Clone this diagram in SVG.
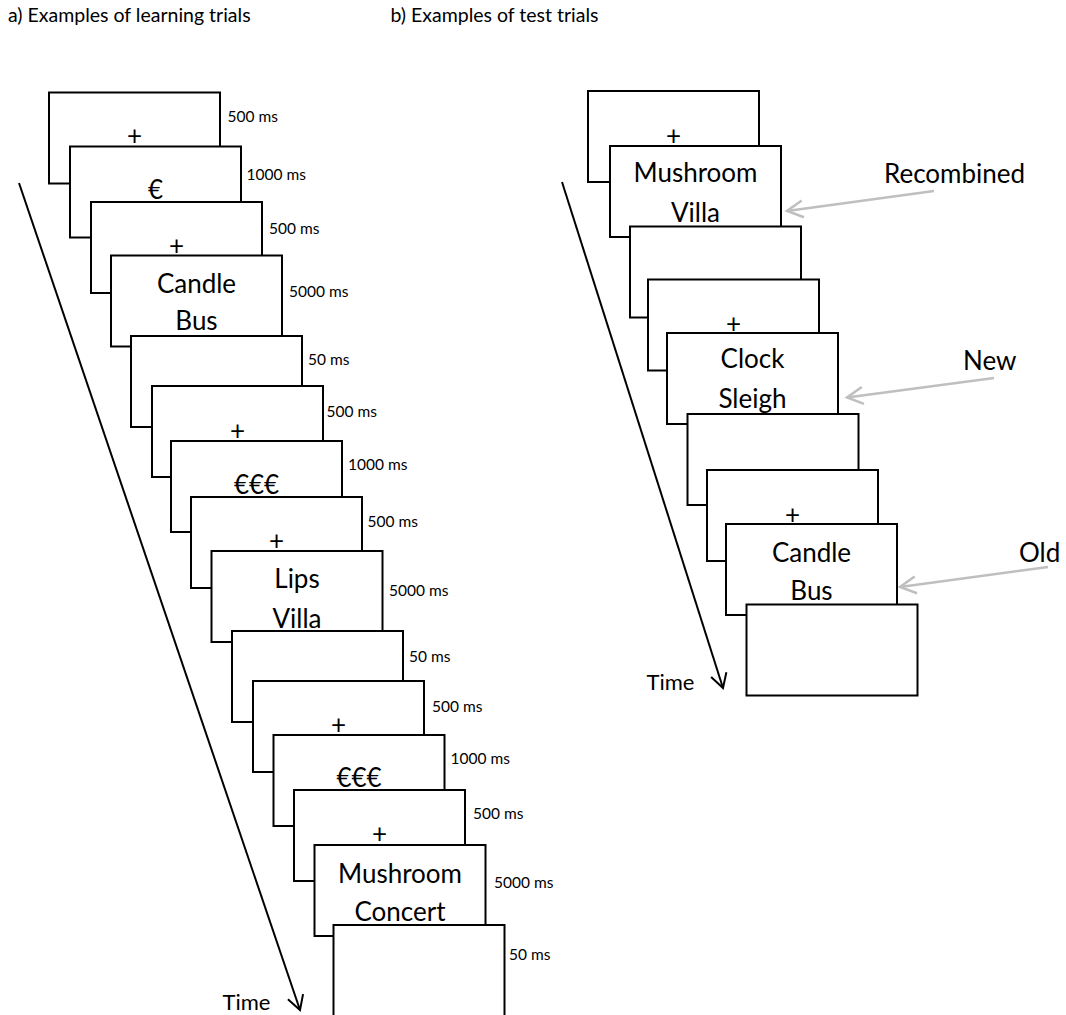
<svg xmlns="http://www.w3.org/2000/svg" width="1066" height="1015" viewBox="0 0 1066 1015">
<style>
.bg{fill:#fff}
.frame{fill:#fff;stroke:#000;stroke-width:2}
text{font-family:Lato,"Open Sans","Liberation Sans",sans-serif;fill:#000}
.w{font-size:26px;text-anchor:middle}
.p{font-size:26px;text-anchor:middle}
.d{font-size:15.5px}
.t{font-size:19.5px}
.lab{font-size:26px}
.time{font-size:22px}
.ax{stroke:#000;stroke-width:2;fill:none}
.gr{stroke:#bfbfbf;stroke-width:2.5;fill:none}
</style>
<defs>
<marker id="ab" markerUnits="userSpaceOnUse" orient="auto" markerWidth="30" markerHeight="30" refX="0" refY="0" viewBox="-20 -15 30 30" overflow="visible">
<path d="M-14,-8 L0,0 L-14,8" fill="none" stroke="#000" stroke-width="2"/>
</marker>
<marker id="ag" markerUnits="userSpaceOnUse" orient="auto" markerWidth="30" markerHeight="30" refX="0" refY="0" viewBox="-20 -15 30 30" overflow="visible">
<path d="M-16,-8.5 L0,0 L-16,8.5" fill="none" stroke="#bfbfbf" stroke-width="2.5"/>
</marker>
</defs>
<rect class="bg" x="0" y="0" width="1066" height="1015"/>
<text class="t" x="8" y="22">a) Examples of learning trials</text>
<text class="t" x="390.5" y="22">b) Examples of test trials</text>

<g id="connectors">
<line class="ax" x1="19" y1="183" x2="300" y2="1010" marker-end="url(#ab)"/>
<line class="ax" x1="562" y1="182" x2="723" y2="688" marker-end="url(#ab)"/>
<line class="gr" x1="934" y1="191" x2="787" y2="211" marker-end="url(#ag)"/>
<line class="gr" x1="994" y1="378" x2="847" y2="397.5" marker-end="url(#ag)"/>
<line class="gr" x1="1048" y1="567" x2="900" y2="587" marker-end="url(#ag)"/>
</g>

<g id="a-time"><text class="time" x="222.5" y="1010">Time</text></g>
<g id="b-time"><text class="time" x="646.5" y="690">Time</text></g>

<g id="a1"><rect class="frame" x="49" y="92.5" width="171" height="91"/><text class="p" x="134.5" y="145">+</text><text class="d" x="227.5" y="121.5">500 ms</text></g>
<g id="a2"><rect class="frame" x="70" y="146.5" width="171" height="91"/><text class="w" x="155.5" y="198.5">€</text><text class="d" x="246.5" y="179.5">1000 ms</text></g>
<g id="a3"><rect class="frame" x="91" y="202" width="171" height="91"/><text class="p" x="176.5" y="254.5">+</text><text class="d" x="269" y="233.5">500 ms</text></g>
<g id="a4"><rect class="frame" x="111" y="255.5" width="171" height="91"/><text class="w" x="196.5" y="293">Candle</text><text class="w" x="196.5" y="330">Bus</text><text class="d" x="289" y="296.5">5000 ms</text></g>
<g id="a5"><rect class="frame" x="131" y="336" width="171" height="91"/><text class="d" x="308" y="365">50 ms</text></g>
<g id="a6"><rect class="frame" x="152" y="386" width="171" height="91"/><text class="p" x="237.5" y="440">+</text><text class="d" x="326.5" y="416.5">500 ms</text></g>
<g id="a7"><rect class="frame" x="171" y="441" width="171" height="91"/><text class="w" x="256.5" y="493.5">€€€</text><text class="d" x="348" y="470">1000 ms</text></g>
<g id="a8"><rect class="frame" x="191" y="497" width="171" height="91"/><text class="p" x="276.5" y="549.5">+</text><text class="d" x="367.5" y="526.5">500 ms</text></g>
<g id="a9"><rect class="frame" x="211.5" y="551" width="171" height="91"/><text class="w" x="297" y="588">Lips</text><text class="w" x="297" y="628">Villa</text><text class="d" x="389" y="596">5000 ms</text></g>
<g id="a10"><rect class="frame" x="232" y="631" width="171" height="91"/><text class="d" x="409" y="661.5">50 ms</text></g>
<g id="a11"><rect class="frame" x="253" y="681" width="171" height="91"/><text class="p" x="338.5" y="734">+</text><text class="d" x="432" y="711.5">500 ms</text></g>
<g id="a12"><rect class="frame" x="273.5" y="735" width="171" height="91"/><text class="w" x="359" y="787">€€€</text><text class="d" x="450.5" y="764">1000 ms</text></g>
<g id="a13"><rect class="frame" x="294" y="790" width="171" height="91"/><text class="p" x="379.5" y="843">+</text><text class="d" x="473" y="819">500 ms</text></g>
<g id="a14"><rect class="frame" x="314.5" y="845" width="171" height="91"/><text class="w" x="400" y="883">Mushroom</text><text class="w" x="400" y="921">Concert</text><text class="d" x="494" y="887.5">5000 ms</text></g>
<g id="a15"><rect class="frame" x="333.5" y="925" width="171" height="95"/><text class="d" x="509" y="960">50 ms</text></g>

<g id="b1"><rect class="frame" x="588" y="91" width="171" height="91"/><text class="p" x="673.5" y="145">+</text></g>
<g id="b2"><rect class="frame" x="610" y="146" width="171" height="91"/><text class="w" x="695.5" y="181.5">Mushroom</text><text class="w" x="695.5" y="221.5">Villa</text></g>
<g id="b3"><rect class="frame" x="630" y="226.5" width="171" height="91"/></g>
<g id="b4"><rect class="frame" x="648" y="279.5" width="171" height="91"/><text class="p" x="733.5" y="332.5">+</text></g>
<g id="b5"><rect class="frame" x="667" y="333" width="171" height="91"/><text class="w" x="752.5" y="368">Clock</text><text class="w" x="752.5" y="408">Sleigh</text></g>
<g id="b6"><rect class="frame" x="687.5" y="414" width="171" height="91"/></g>
<g id="b7"><rect class="frame" x="707" y="470" width="171" height="91"/><text class="p" x="792.5" y="523.5">+</text></g>
<g id="b8"><rect class="frame" x="726" y="524" width="171" height="91"/><text class="w" x="811.5" y="561.5">Candle</text><text class="w" x="811.5" y="600">Bus</text></g>
<g id="b9"><rect class="frame" x="746.5" y="604.5" width="171" height="91"/></g>

<g id="lab-recombined"><text class="lab" x="884" y="183">Recombined</text></g>
<g id="lab-new"><text class="lab" x="963" y="370">New</text></g>
<g id="lab-old"><text class="lab" x="1019" y="561.5">Old</text></g>
</svg>
